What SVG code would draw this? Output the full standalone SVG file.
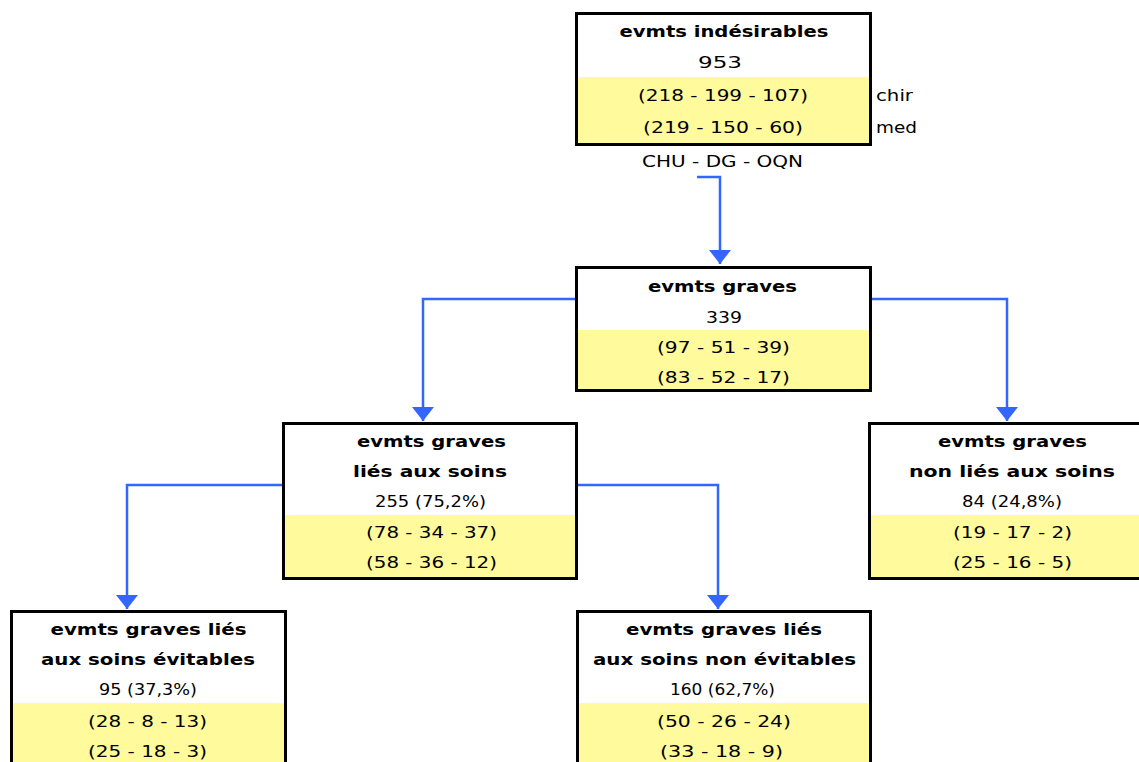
<svg xmlns="http://www.w3.org/2000/svg" width="1139" height="762" viewBox="0 0 1139 762">
<defs>
<style>
.box{fill:#ffffff;stroke:#000;stroke-width:3}
.yel{fill:#fffb9c}
text{font-family:"DejaVu Sans","Liberation Sans",sans-serif;font-size:15.5px;fill:#000}
.t{font-weight:bold;text-anchor:middle}
.c{text-anchor:middle}
.conn{fill:none;stroke:#3366ff;stroke-width:2.5}
</style>
<marker id="arr" markerUnits="userSpaceOnUse" markerWidth="16" markerHeight="24" refX="14" refY="11" orient="auto">
<path d="M0,0 L14,11 L0,22 Z" fill="#3366ff"/>
</marker>
</defs>
<rect width="1139" height="762" fill="#fff"/>
<g id="connectors">
<path class="conn" d="M697,177 H720 V264" marker-end="url(#arr)"/>
<path class="conn" d="M575,299 H423 V421" marker-end="url(#arr)"/>
<path class="conn" d="M872,299 H1007 V421" marker-end="url(#arr)"/>
<path class="conn" d="M282,485 H127 V609" marker-end="url(#arr)"/>
<path class="conn" d="M578,485 H718 V609" marker-end="url(#arr)"/>
</g>
<g id="node-indesirables">
<rect class="box" x="576.5" y="13.5" width="294" height="131"/>
<rect class="yel" x="578" y="77" width="291" height="66"/>
<text class="t" x="724" y="37" textLength="209" lengthAdjust="spacingAndGlyphs">evmts indésirables</text>
<text class="c" x="720" y="68" textLength="44" lengthAdjust="spacingAndGlyphs">953</text>
<text class="c" x="723" y="101" textLength="170" lengthAdjust="spacingAndGlyphs">(218 - 199 - 107)</text>
<text class="c" x="723" y="133" textLength="160" lengthAdjust="spacingAndGlyphs">(219 - 150 - 60)</text>
<text x="876" y="101" textLength="37" lengthAdjust="spacingAndGlyphs">chir</text>
<text x="876" y="133" textLength="41" lengthAdjust="spacingAndGlyphs">med</text>
<text class="c" x="722.5" y="167" textLength="161" lengthAdjust="spacingAndGlyphs">CHU - DG - OQN</text>
</g>
<g id="node-graves">
<rect class="box" x="576.5" y="267.5" width="294" height="123"/>
<rect class="yel" x="578" y="330" width="291" height="59"/>
<text class="t" x="722.5" y="292" textLength="149" lengthAdjust="spacingAndGlyphs">evmts graves</text>
<text class="c" x="724" y="323" textLength="36" lengthAdjust="spacingAndGlyphs">339</text>
<text class="c" x="723.5" y="353" textLength="133" lengthAdjust="spacingAndGlyphs">(97 - 51 - 39)</text>
<text class="c" x="723.5" y="383" textLength="133" lengthAdjust="spacingAndGlyphs">(83 - 52 - 17)</text>
</g>
<g id="node-lies">
<rect class="box" x="283.5" y="423.5" width="293" height="155"/>
<rect class="yel" x="285" y="515" width="290" height="62"/>
<text class="t" x="431.5" y="447" textLength="149" lengthAdjust="spacingAndGlyphs">evmts graves</text>
<text class="t" x="430" y="477" textLength="154" lengthAdjust="spacingAndGlyphs">liés aux soins</text>
<text class="c" x="430.5" y="507" textLength="111" lengthAdjust="spacingAndGlyphs">255 (75,2%)</text>
<text class="c" x="431.5" y="538" textLength="131" lengthAdjust="spacingAndGlyphs">(78 - 34 - 37)</text>
<text class="c" x="431.5" y="568" textLength="131" lengthAdjust="spacingAndGlyphs">(58 - 36 - 12)</text>
</g>
<g id="node-non-lies">
<rect class="box" x="869.5" y="423.5" width="293" height="155"/>
<rect class="yel" x="871" y="515" width="290" height="62"/>
<text class="t" x="1012.5" y="447" textLength="149" lengthAdjust="spacingAndGlyphs">evmts graves</text>
<text class="t" x="1012" y="477" textLength="206" lengthAdjust="spacingAndGlyphs">non liés aux soins</text>
<text class="c" x="1012" y="507" textLength="100" lengthAdjust="spacingAndGlyphs">84 (24,8%)</text>
<text class="c" x="1012.5" y="538" textLength="119" lengthAdjust="spacingAndGlyphs">(19 - 17 - 2)</text>
<text class="c" x="1012.5" y="568" textLength="119" lengthAdjust="spacingAndGlyphs">(25 - 16 - 5)</text>
</g>
<g id="node-evitables">
<rect class="box" x="11.5" y="611.5" width="274" height="200"/>
<rect class="yel" x="13" y="703" width="271" height="70"/>
<text class="t" x="148.5" y="635" textLength="196" lengthAdjust="spacingAndGlyphs">evmts graves liés</text>
<text class="t" x="148" y="665" textLength="214" lengthAdjust="spacingAndGlyphs">aux soins évitables</text>
<text class="c" x="148" y="695" textLength="98" lengthAdjust="spacingAndGlyphs">95 (37,3%)</text>
<text class="c" x="147.5" y="727" textLength="119" lengthAdjust="spacingAndGlyphs">(28 - 8 - 13)</text>
<text class="c" x="147.5" y="757" textLength="119" lengthAdjust="spacingAndGlyphs">(25 - 18 - 3)</text>
</g>
<g id="node-non-evitables">
<rect class="box" x="577.5" y="611.5" width="293" height="200"/>
<rect class="yel" x="579" y="703" width="290" height="70"/>
<text class="t" x="724" y="635" textLength="196" lengthAdjust="spacingAndGlyphs">evmts graves liés</text>
<text class="t" x="724.5" y="665" textLength="263" lengthAdjust="spacingAndGlyphs">aux soins non évitables</text>
<text class="c" x="722.5" y="695" textLength="105" lengthAdjust="spacingAndGlyphs">160 (62,7%)</text>
<text class="c" x="724" y="727" textLength="134" lengthAdjust="spacingAndGlyphs">(50 - 26 - 24)</text>
<text class="c" x="721.5" y="757" textLength="123" lengthAdjust="spacingAndGlyphs">(33 - 18 - 9)</text>
</g>
</svg>
